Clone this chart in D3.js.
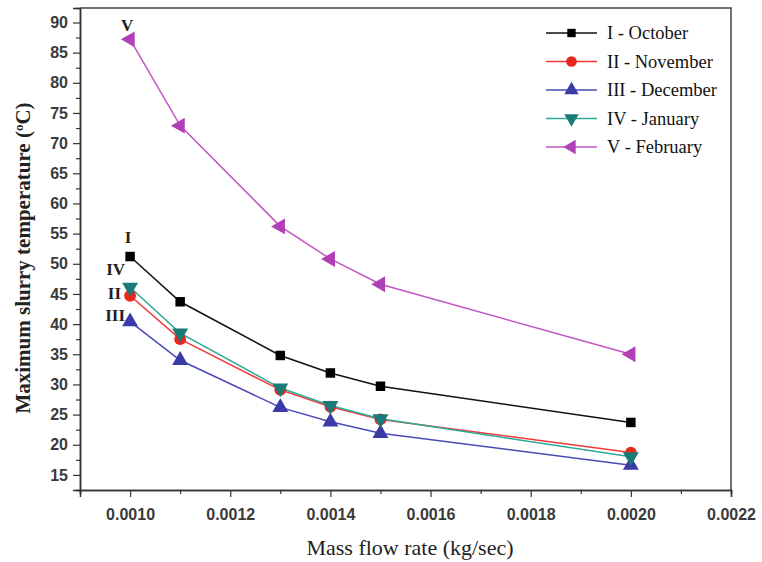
<!DOCTYPE html>
<html>
<head>
<meta charset="utf-8">
<script src="https://cdn.jsdelivr.net/npm/d3@7"></script>
<style>
body { margin:0; background:#fff; }
.tick text { font-family: Arial, "Liberation Sans", sans-serif; font-size:16px; font-weight:bold; fill:#3a3a3a; }
</style>
</head>
<body>
<div class="c_chart"></div>
<script>
/* DATA */
const flowRates = [0.0010, 0.0011, 0.0013, 0.0014, 0.0015, 0.0020];
const october  = [51.2, 43.7, 34.8, 31.9, 29.7, 23.7];
const november = [44.7, 37.5, 29.1, 26.3, 24.2, 18.7];
const december = [40.4, 34.0, 26.2, 23.8, 21.9, 16.6];
const january  = [46.1, 38.5, 29.4, 26.5, 24.3, 18.0];
const february = [87.2, 72.9, 56.2, 50.8, 46.6, 35.0];
const seriesNames = ["I - October", "II - November", "III - December", "IV - January", "V - February"];
const seriesTags = ["I", "II", "III", "IV", "V"];
const xTicks = [0.0010, 0.0012, 0.0014, 0.0016, 0.0018, 0.0020, 0.0022];
const yTicks = [15, 20, 25, 30, 35, 40, 45, 50, 55, 60, 65, 70, 75, 80, 85, 90];

const width = 762, height = 562;
const margin = {top:8, right:31, bottom:72, left:80};

const series = [
	{name:seriesNames[0], tag:seriesTags[0], values:october,  line:"#111", fill:"#000", sym:d3.symbolSquare, rot:0},
	{name:seriesNames[1], tag:seriesTags[1], values:november, line:"#f03a3a", fill:"#e8281e", sym:d3.symbolCircle, rot:0},
	{name:seriesNames[2], tag:seriesTags[2], values:december, line:"#4a4ab8", fill:"#3a3aa8", sym:d3.symbolTriangle, rot:0},
	{name:seriesNames[3], tag:seriesTags[3], values:january,  line:"#2fa898", fill:"#1a7a78", sym:d3.symbolTriangle, rot:180},
	{name:seriesNames[4], tag:seriesTags[4], values:february, line:"#c455c4", fill:"#b040b8", sym:d3.symbolTriangle, rot:-90}
];

let svg = d3.select(".c_chart").append("svg")
	.attr("width", width)
	.attr("height", height);

const x = d3.scaleLinear().domain([0.0009, 0.0022]).range([margin.left, width - margin.right]);
const y = d3.scaleLinear().domain([12.5, 92.4]).range([height - margin.bottom, margin.top]);

/* AXES */
svg.append("g")
	.attr("transform", `translate(0,${height - margin.bottom})`)
	.call(d3.axisBottom(x).tickValues(xTicks).tickFormat(d3.format(".4f")).tickSize(7).tickPadding(12));
svg.append("g")
	.attr("transform", `translate(0,${height - margin.bottom})`)
	.call(d3.axisBottom(x).tickValues(d3.range(0.0009, 0.00221, 0.0002)).tickFormat("").tickSize(4));

svg.append("g")
	.attr("transform", `translate(${margin.left},0)`)
	.call(d3.axisLeft(y).tickValues(yTicks).tickSize(7).tickPadding(5));
svg.append("g")
	.attr("transform", `translate(${margin.left},0)`)
	.call(d3.axisLeft(y).tickValues(d3.range(12.5, 92.5, 5)).tickFormat("").tickSize(4));

svg.selectAll(".domain").attr("stroke", "#333").attr("stroke-width", 1.5);
svg.selectAll(".tick line").attr("stroke", "#333").attr("stroke-width", 1.2);

/* frame top and right */
svg.append("path")
	.attr("d", `M${margin.left},${margin.top}H${width - margin.right}V${height - margin.bottom}`)
	.attr("fill", "none").attr("stroke", "#444").attr("stroke-width", 1.5);

/* LINES */
const line = d3.line().x((d, i) => x(flowRates[i])).y(d => y(d));

series.forEach(s => {
	svg.append("path")
		.datum(s.values)
		.attr("d", line)
		.attr("fill", "none")
		.attr("stroke", s.line)
		.attr("stroke-width", 1.5);
});

series.forEach(s => {
	svg.selectAll(null)
		.data(s.values)
		.enter()
		.append("path")
		.attr("d", d3.symbol().type(s.sym).size(s.sym === d3.symbolSquare ? 90 : 110))
		.attr("transform", (d, i) => `translate(${x(flowRates[i])},${y(d)}) rotate(${s.rot})`)
		.attr("fill", s.fill);
});

/* SERIES TAGS */
const tagPos = [
	{dx:-2, dy:-14, anchor:"middle"},
	{dx:-9, dy:3, anchor:"end"},
	{dx:-5, dy:-1, anchor:"end"},
	{dx:-5, dy:-12, anchor:"end"},
	{dx:-3, dy:-8, anchor:"middle"}
];
series.forEach((s, k) => {
	svg.append("text")
		.attr("x", x(flowRates[0]) + tagPos[k].dx)
		.attr("y", y(s.values[0]) + tagPos[k].dy)
		.attr("text-anchor", tagPos[k].anchor)
		.attr("font-family", "'Liberation Serif', 'Times New Roman', serif")
		.attr("font-weight", "bold")
		.attr("font-size", 17)
		.attr("fill", "#222")
		.text(s.tag);
});

/* LEGEND */
const legend = svg.append("g").attr("transform", "translate(546,33)");
series.forEach((s, k) => {
	const g = legend.append("g").attr("transform", `translate(0,${k * 28.5})`);
	g.append("line").attr("x1", 0).attr("x2", 51).attr("y1", 0).attr("y2", 0)
		.attr("stroke", s.line).attr("stroke-width", 1.5);
	g.append("path")
		.attr("d", d3.symbol().type(s.sym).size(s.sym === d3.symbolSquare ? 70 : 90))
		.attr("transform", `translate(25.5,0) rotate(${s.rot})`)
		.attr("fill", s.fill);
	g.append("text")
		.attr("x", 61).attr("y", 6)
		.attr("font-family", "'Liberation Serif', 'Times New Roman', serif")
		.attr("font-size", 18.5)
		.attr("fill", "#111")
		.text(s.name);
});

/* AXIS TITLES */
svg.append("text")
	.attr("x", 410).attr("y", 555)
	.attr("text-anchor", "middle")
	.attr("font-family", "'Liberation Serif', 'Times New Roman', serif")
	.attr("font-size", 22)
	.attr("fill", "#222")
	.text("Mass flow rate (kg/sec)");

const yt = svg.append("text")
	.attr("transform", "translate(30,258) rotate(-90)")
	.attr("text-anchor", "middle")
	.attr("font-family", "'Liberation Serif', 'Times New Roman', serif")
	.attr("font-weight", "bold")
	.attr("font-size", 21)
	.attr("fill", "#222");
yt.append("tspan").text("Maximum slurry temperature (");
yt.append("tspan").attr("baseline-shift", "super").attr("font-size", 13).text("o");
yt.append("tspan").text("C)");
</script>
</body>
</html>
